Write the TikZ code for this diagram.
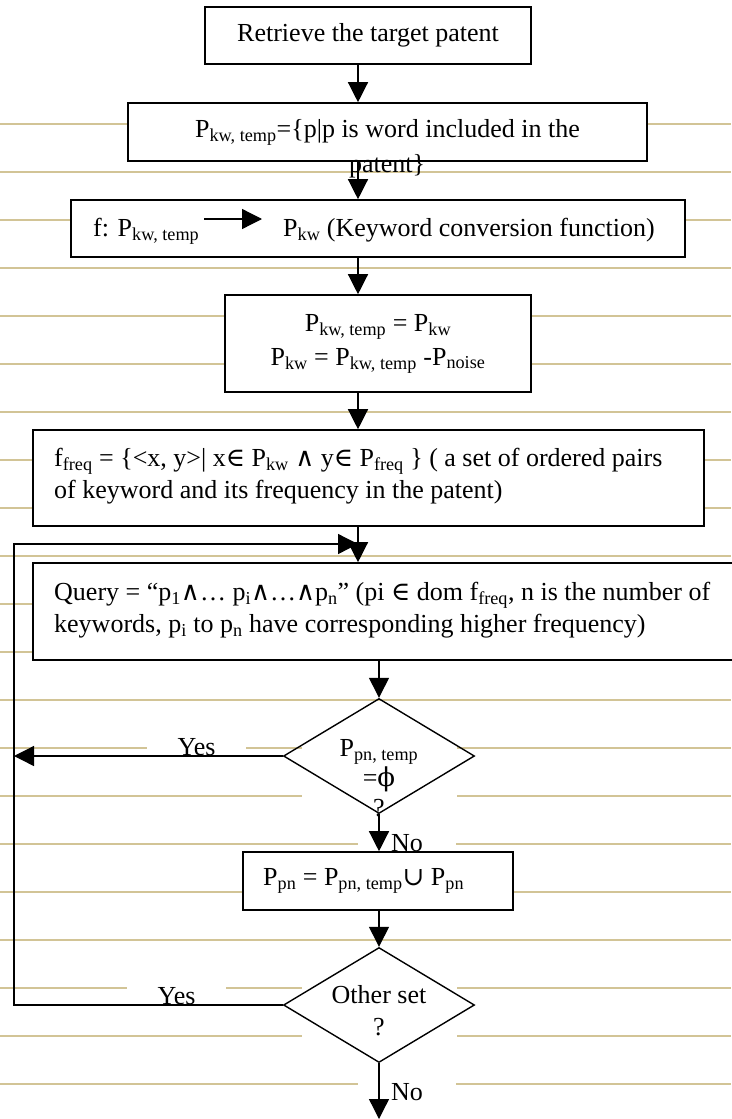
\documentclass[tikz,border=0pt]{standalone}
\usepackage{fontspec}
\setmainfont{Liberation Serif}
\newfontfamily\symf{DejaVu Serif}
\usetikzlibrary{arrows.meta,shapes.geometric}
\definecolor{rulecol}{RGB}{210,196,150}

\begin{document}
\begin{tikzpicture}[x=1pt,y=-1pt,
  every node/.style={font=\fontsize{26}{32}\selectfont},
  box/.style={draw, line width=1.6pt, fill=white, inner sep=0pt, align=center},
  txt/.style={inner sep=0pt, align=left, anchor=west},
  dec/.style={draw, diamond, line width=1.4pt, inner sep=0pt, minimum width=191pt, minimum height=115pt},
  lbl/.style={fill=white, inner xsep=0pt, inner ysep=1pt},
  arr/.style={-{Triangle[length=20pt,width=20pt]}, line width=1.3pt},
  rule/.style={rulecol, line width=1.6pt}]
\useasboundingbox (0,0) rectangle (731,1119);
% ruled background
\foreach \y in {124,172,...,1084}
  \draw[rule] (0,\y) -- (731,\y);
\coordinate (col) at (358,0);
\coordinate (back) at (14,544);
\coordinate (join) at (358,544);
\coordinate (stop) at (379,1119);
% labels
\node[lbl, minimum width=99pt] (yes1) at (196.5,747) {Yes};
\node[lbl, minimum width=98pt] (no1) at (407,843) {No};
\node[lbl, minimum width=99pt] (yes2) at (176.5,996) {Yes};
\node[lbl, minimum width=98pt] (no2) at (407,1092) {No};
% boxes
\node[box, minimum width=326pt, minimum height=57pt] (start) at (368,35.5) {Retrieve the target patent};
\node[box, minimum width=519pt, minimum height=58pt] (words) at (387.5,132) {P\textsubscript{kw, temp}=\{p|p is word included in the};
\node[inner sep=0pt] (wordsend) at (387,166) {patent\}};
\node[box, minimum width=614pt, minimum height=57pt] (conv) at (378,228.5) {};
\node[anchor=base west, inner sep=0pt] (convL) at (93,236) {f: P\textsubscript{kw, temp}};
\node[anchor=base west, inner sep=0pt] (convR) at (283,236) {P\textsubscript{kw} (Keyword conversion function)};
\draw[arr] ([xshift=5pt,yshift=17pt]convL.base east) -- ([xshift=-21pt,yshift=17pt]convR.base west);
\node[box, minimum width=306pt, minimum height=97pt] (clean) at (378,343.5) {P\textsubscript{kw, temp} = P\textsubscript{kw}\\[2pt]P\textsubscript{kw} = P\textsubscript{kw, temp} -P\textsubscript{noise}};
\node[box, minimum width=671pt, minimum height=96pt] (freq) at (368.5,478) {};
\node[txt] (freqtxt) at (54,476) {f\textsubscript{freq} = \{<x, y>| x{\symf ∈} P\textsubscript{kw} {\symf ∧} y{\symf ∈} P\textsubscript{freq} \} ( a set of ordered pairs\\of keyword and its frequency in the patent)};
\node[box, minimum width=727pt, minimum height=97pt] (query) at (396.5,611.5) {};
\node[txt] (querytxt) at (54,610) {Query = “p\textsubscript{1}{\symf ∧}… p\textsubscript{i}{\symf ∧}…{\symf ∧}p\textsubscript{n}” (pi {\symf ∈} dom f\textsubscript{freq}, n is the number of\\keywords, p\textsubscript{i} to p\textsubscript{n} have corresponding higher frequency)};
\node[lbl, minimum width=155pt, minimum height=80pt, align=center] (emptytxt) at (379,778) {P\textsubscript{pn, temp}\\[-2pt]={\symf ϕ}\\[-2pt]?};
\node[dec] (empty) at (379,756) {};
\node[box, minimum width=270pt, minimum height=58pt] (merge) at (378,881) {};
\node[txt] (mergetxt) at (263,881) {P\textsubscript{pn} = P\textsubscript{pn, temp}{\symf ∪} P\textsubscript{pn}};
\node[lbl, minimum width=155pt, minimum height=70pt, align=center] (moretxt) at (379,1011) {Other set\\?};
\node[dec] (more) at (379,1005) {};
% connectors
\draw[arr] (start.south -| col) -- (words.north -| col);
\draw[arr] (words.south -| col) -- (conv.north -| col);
\draw[arr] (conv.south -| col) -- (clean.north -| col);
\draw[arr] (clean.south -| col) -- (freq.north -| col);
\draw[arr] (freq.south -| col) -- (query.north -| col);
\draw[arr] (query.south -| empty) -- (empty.north);
\draw[arr] (empty.west) -- (empty.west -| back);
\draw[arr] (empty.south) -- (merge.north -| empty);
\draw[arr] (merge.south -| more) -- (more.north);
\draw[arr] (more.west) -| (back) -- (join);
\draw[arr] (more.south) -- (stop);
\end{tikzpicture}
\end{document}
